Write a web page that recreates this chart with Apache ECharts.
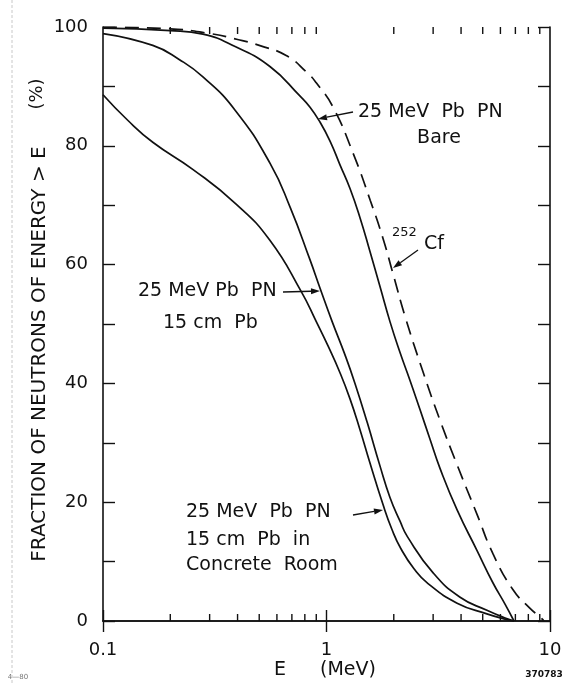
<!DOCTYPE html>
<html><head><meta charset="utf-8">
<script src="https://cdn.jsdelivr.net/npm/echarts@6/dist/echarts.min.js"></script>
<style>html,body{margin:0;padding:0;background:#fff}#c{width:565px;height:685px}</style>
</head><body><div id="c"></div>
<script>
// ---- data: [E (MeV), fraction of neutrons with energy > E (%)] ----
const cf252 = [[0.1,100],[0.2,99.7],[0.3,98.9],[0.4,97.9],[0.5,96.9],[0.66,95.2],[0.82,92.3],[0.9,90.6],[1.07,86.5],[1.32,78.6],[1.57,70.8],[1.79,64.4],[1.99,58.3],[2.25,51.2],[2.7,42.0],[3.22,33.8],[3.84,26.3],[4.71,18.0],[5.56,11.3],[6.82,5.3],[8.1,2.2],[9.0,0.7],[9.4,0]];
const bare = [[0.1,99.8],[0.2,99.4],[0.28,98.8],[0.39,96.7],[0.56,93.3],[0.76,88.4],[0.844,86.5],[0.935,84.0],[1.037,80.8],[1.149,76.8],[1.274,72.8],[1.412,67.9],[1.565,62.2],[1.735,56.3],[1.923,50.4],[2.133,45.2],[2.364,40.5],[2.62,35.6],[2.905,30.6],[3.22,25.7],[3.84,18.7],[4.71,11.9],[5.56,6.4],[6.3,2.8],[6.9,0]];
const pb15 = [[0.1,98.9],[0.167,96.9],[0.22,94.5],[0.28,91.6],[0.39,86.0],[0.56,77.0],[0.69,69.5],[0.84,61.0],[0.94,55.8],[1.06,50.4],[1.21,44.8],[1.341,40.0],[1.522,33.4],[1.732,26.2],[1.923,20.8],[2.133,16.8],[2.301,14.2],[3.0,8.1],[3.96,4.0],[5.22,1.8],[6.3,0.5],[6.9,0]];
const concrete = [[0.1,88.6],[0.129,84.3],[0.167,80.6],[0.253,76.0],[0.394,70.2],[0.558,64.1],[0.77,55.5],[0.9,50.4],[1.016,46.3],[1.149,41.8],[1.274,37.4],[1.412,32.2],[1.565,26.6],[1.79,19.6],[1.963,15.4],[2.15,12.2],[2.463,8.8],[2.846,6.3],[3.84,3.0],[5.22,1.2],[6.3,0.3],[6.9,0]];
const xMinorTicks = [0.2,0.3,0.4,0.5,0.6,0.7,0.8,0.9,2,3,4,5,6,7,8,9];
const yTickValues = [0,20,40,60,80,100];

const FONT = '"DejaVu Sans", "Liberation Sans", sans-serif';
const chart = echarts.init(document.getElementById('c'), null, {renderer:'canvas'});

function txt(x, y, s, size, align, extra) {
  return Object.assign({type:'text', x:x, y:y, silent:true,
    style:{text:s, font:(size)+'px '+FONT, fill:'#111', align:align||'left', verticalAlign:'middle'}}, extra||{});
}
function arrow(x1,y1,x2,y2){
  const a=Math.atan2(y2-y1,x2-x1), L=9, W=3;
  const bx=x2-L*Math.cos(a), by=y2-L*Math.sin(a);
  const px=-Math.sin(a)*W, py=Math.cos(a)*W;
  return [
    {type:'line', silent:true, shape:{x1:x1,y1:y1,x2:bx,y2:by}, style:{stroke:'#111',lineWidth:1.3}},
    {type:'polygon', silent:true, shape:{points:[[x2,y2],[bx+px,by+py],[bx-px,by-py]]}, style:{fill:'#111'}}
  ];
}

const axisCommon = {
  axisLine:{show:true, lineStyle:{color:'#111', width:1.6}},
  splitLine:{show:false}
};
const lineCommon = {type:'line', showSymbol:false, smooth:0.5, clip:true};

const option = {
  animation:false,
  backgroundColor:'#fff',
  grid:{left:103, right:15, top:27, bottom:64, containLabel:false},
  xAxis:[
    Object.assign({type:'log', logBase:10, min:0.1, max:10, position:'bottom',
      axisTick:{show:true, inside:true, length:11, lineStyle:{color:'#111', width:1.4}},
      axisLabel:{show:true, margin:20, fontSize:18, fontFamily:FONT, color:'#111',
        formatter:function(v){return String(+Number(v).toPrecision(3));}}}, axisCommon),
    Object.assign({type:'log', logBase:10, min:0.1, max:10, position:'top',
      axisTick:{show:true, inside:true, length:11, lineStyle:{color:'#111', width:1.4}},
      axisLabel:{show:false}}, axisCommon)
  ],
  yAxis:[
    Object.assign({type:'value', min:0, max:100, interval:20, position:'left',
      axisTick:{show:true, inside:true, length:12, lineStyle:{color:'#111', width:1.4}},
      minorTick:{show:true, splitNumber:2, length:12, lineStyle:{color:'#111', width:1.4}},
      axisLabel:{show:true, margin:15, fontSize:18, fontFamily:FONT, color:'#111',
        formatter:function(v){return yTickValues.indexOf(v)>=0?String(v):'';}}}, axisCommon),
    Object.assign({type:'value', min:0, max:100, interval:20, position:'right',
      axisTick:{show:true, inside:true, length:12, lineStyle:{color:'#111', width:1.4}},
      minorTick:{show:true, splitNumber:2, length:12, lineStyle:{color:'#111', width:1.4}},
      axisLabel:{show:false}}, axisCommon)
  ],
  series:[
    Object.assign({name:'252Cf', data:cf252, lineStyle:{color:'#111', width:1.7, type:[14,8]}}, lineCommon),
    Object.assign({name:'Bare', data:bare, lineStyle:{color:'#111', width:1.7}}, lineCommon),
    Object.assign({name:'15 cm Pb', data:pb15, lineStyle:{color:'#111', width:1.7}}, lineCommon),
    Object.assign({name:'Concrete', data:concrete, lineStyle:{color:'#111', width:1.7}}, lineCommon),
    {name:'xminor', type:'custom', silent:true, data:xMinorTicks.map(function(v){return [v];}),
      encode:{x:0},
      renderItem:function(params, api){
        const v = api.value(0);
        const pb = api.coord([v, 0]), pt = api.coord([v, 100]);
        return {type:'group', children:[
          {type:'line', shape:{x1:pb[0],y1:pb[1],x2:pb[0],y2:pb[1]-7}, style:{stroke:'#111',lineWidth:1.4}},
          {type:'line', shape:{x1:pt[0],y1:pt[1],x2:pt[0],y2:pt[1]+7}, style:{stroke:'#111',lineWidth:1.4}}
        ]};
      }}
  ],
  graphic:[].concat(
    [
      txt(40, 354, 'FRACTION OF NEUTRONS OF ENERGY > E', 20, 'center', {rotation:Math.PI/2}),
      txt(37, 94, '(%)', 18, 'center', {rotation:Math.PI/2}),
      txt(280, 670, 'E', 19, 'center'),
      txt(348, 670, '(MeV)', 19, 'center'),
      txt(544, 675, '370783', 9, 'center', {style:{text:'370783', font:'bold 9px '+FONT, fill:'#111', align:'center', verticalAlign:'middle'}}),
      txt(18, 677, '4\u201480', 7, 'center', {style:{text:'4\u201480', font:'7px '+FONT, fill:'#777', align:'center', verticalAlign:'middle'}}),
      {type:'line', silent:true, shape:{x1:12,y1:0,x2:12,y2:685}, style:{stroke:'#c8c8c8', lineWidth:1, lineDash:[3,2]}},
      txt(358, 112, '25 MeV  Pb  PN', 19, 'left'),
      txt(439, 138, 'Bare', 19, 'center'),
      txt(392, 233, '252', 13, 'left'),
      txt(424, 244, 'Cf', 19, 'left'),
      txt(138, 291, '25 MeV Pb  PN', 19, 'left'),
      txt(163, 323, '15 cm  Pb', 19, 'left'),
      txt(186, 512, '25 MeV  Pb  PN', 19, 'left'),
      txt(186, 540, '15 cm  Pb  in', 19, 'left'),
      txt(186, 565, 'Concrete  Room', 19, 'left')
    ],
    arrow(353,112,318,119),
    arrow(418,250,393,268),
    arrow(283,292,320,291),
    arrow(353,515,383,510)
  )
};
chart.setOption(option);
</script>
</body></html>
